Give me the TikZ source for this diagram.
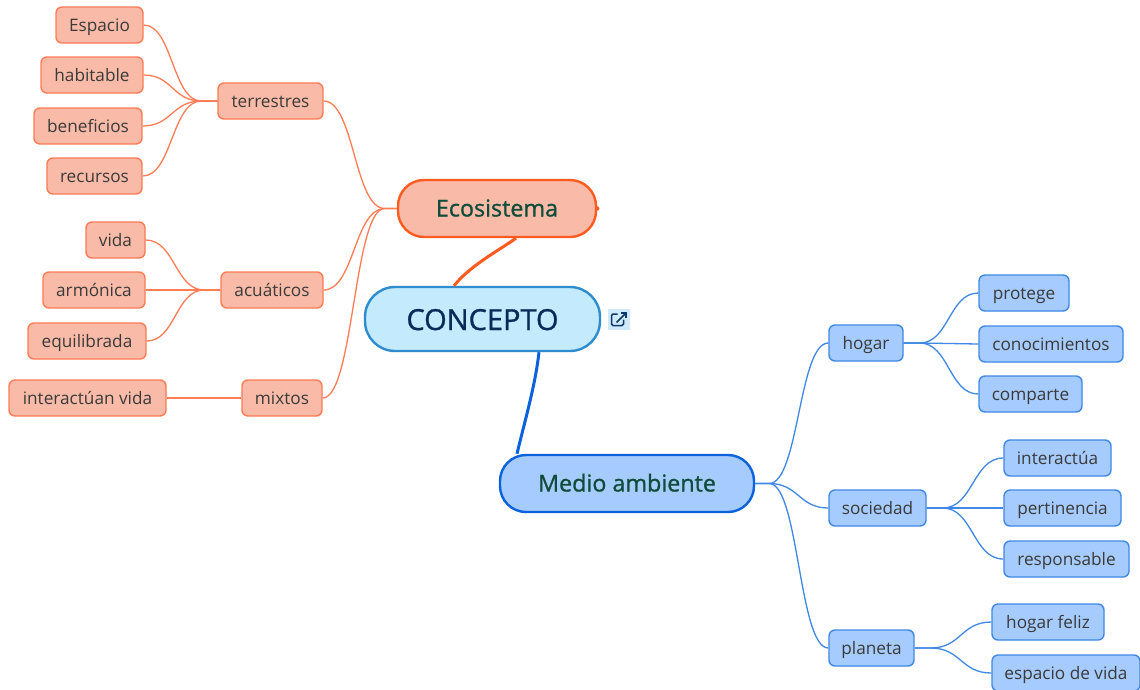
\documentclass[tikz,border=0pt]{standalone}
\usepackage{fontspec}
\setmainfont{Open Sans}
\newfontfamily\semib[FakeBold=1]{Open Sans}
\usetikzlibrary{calc}
\definecolor{orS}{HTML}{FF5A1F}
\definecolor{orL}{HTML}{FF7C55}
\definecolor{orF}{HTML}{F9BBA8}
\definecolor{blS}{HTML}{0A62DC}
\definecolor{blL}{HTML}{3F88E6}
\definecolor{blF}{HTML}{A6CBFF}
\definecolor{ceS}{HTML}{2E8CCF}
\definecolor{ceF}{HTML}{C4EAFD}
\definecolor{txS}{HTML}{3A3A3A}
\definecolor{txG}{HTML}{0F4C3A}
\definecolor{txN}{HTML}{0A2A5A}
\definecolor{icF}{HTML}{CFEBFB}
\tikzset{
  box/.style={rounded corners=6pt,line width=1.4pt,inner sep=0pt,text=txS,text height=14.5pt,text depth=1.5pt,font=\fontsize{17.2}{17}\selectfont},
  orbox/.style={box,draw=orL,fill=orF},
  blbox/.style={box,draw=blL,fill=blF},
  main/.style={rounded corners=26pt,line width=2.4pt,inner sep=0pt,text=txG,text height=19pt,text depth=3pt,font=\semib\fontsize{23.3}{23}\selectfont},
  orline/.style={draw=orL,line width=1.3pt},
  blline/.style={draw=blL,line width=1.3pt},
  trunkor/.style={draw=orS,line width=3pt},
  trunkbl/.style={draw=blS,line width=3pt}
}
% \bx{name}{style}{x0}{y0}{x1}{y1}{text}
\newcommand{\bx}[7]{\node[#2,minimum width=#5pt-#3pt,minimum height=#6pt-#4pt] (#1) at ({(#3+#5)/2},{(#4+#6)/2}) {#7};}
\newcommand{\lk}[4]{\coordinate (frk) at ($(#3)+(#4,0)$);
  \draw[#1] (#2) .. controls ($(#2)!.5!(frk |- #2)$) and ($(#2 |- frk)!.5!(frk)$) .. (frk) -- (#3);}
\newcommand{\rk}[4]{\coordinate (frk) at ($(#2)+(#4,0)$);
  \draw[#1] (#2) -- (frk) .. controls ($(frk)!.5!(#3 |- frk)$) and ($(frk |- #3)!.5!(#3)$) .. (#3);}
\begin{document}
\begin{tikzpicture}[x=1pt,y=-1pt]
\useasboundingbox (0,0) rectangle (1140,689);
\fill[white] (0,0) rectangle (1140,689);
\bx{espacio}{orbox}{56}{7}{143}{43}{Espacio}
\bx{habitable}{orbox}{41}{57}{143}{93}{habitable}
\bx{beneficios}{orbox}{34}{108}{142}{144}{beneficios}
\bx{recursos}{orbox}{47}{158}{142}{194}{recursos}
\bx{terrestres}{orbox}{218}{83}{323}{119}{terrestres}
\bx{vida}{orbox}{86}{222}{145}{258}{vida}
\bx{armonica}{orbox}{43}{272}{145}{308}{armónica}
\bx{equilibrada}{orbox}{28}{323}{146}{359}{equilibrada}
\bx{acuaticos}{orbox}{221}{272}{323}{308}{acuáticos}
\bx{interactuan}{orbox}{9}{380}{166}{416}{interactúan vida}
\bx{mixtos}{orbox}{242}{380}{322}{416}{mixtos}
\bx{hogar}{blbox}{829}{325}{903}{361}{hogar}
\bx{sociedad}{blbox}{829}{490}{926}{526}{sociedad}
\bx{planeta}{blbox}{829}{630}{914}{666}{planeta}
\bx{protege}{blbox}{979}{275}{1069}{311}{protege}
\bx{conocimientos}{blbox}{979}{326}{1123}{362}{conocimientos}
\bx{comparte}{blbox}{979}{376}{1082}{412}{comparte}
\bx{interactua}{blbox}{1004}{440}{1111}{476}{interactúa}
\bx{pertinencia}{blbox}{1004}{490}{1121}{526}{pertinencia}
\bx{responsable}{blbox}{1004}{541}{1129}{577}{responsable}
\bx{hogarfeliz}{blbox}{992}{604}{1104}{640}{hogar feliz}
\bx{espaciovida}{blbox}{992}{655}{1140}{691}{espacio de vida}
\bx{eco}{main,draw=orS,fill=orF}{398}{180}{596}{237}{Ecosistema}
\bx{medio}{main,draw=blS,fill=blF}{500}{455}{754}{512}{Medio ambiente}
\bx{concepto}{main,rounded corners=30pt,draw=ceS,fill=ceF,text=txN,text height=24pt,text depth=2pt,font=\semib\fontsize{29}{29}\selectfont}{365}{287}{600}{351}{CONCEPTO}
% leaves, left
\lk{orline}{espacio.east}{terrestres.west}{-16}
\lk{orline}{habitable.east}{terrestres.west}{-16}
\lk{orline}{beneficios.east}{terrestres.west}{-16}
\lk{orline}{recursos.east}{terrestres.west}{-16}
\lk{orline}{vida.east}{acuaticos.west}{-16}
\lk{orline}{armonica.east}{acuaticos.west}{-16}
\lk{orline}{equilibrada.east}{acuaticos.west}{-16}
\draw[orline] (interactuan.east) -- (mixtos.west);
\lk{orline}{terrestres.east}{eco.west}{-12}
\lk{orline}{acuaticos.east}{eco.west}{-12}
\lk{orline}{mixtos.east}{eco.west}{-12}
% right
\rk{blline}{medio.east}{hogar.west}{14}
\rk{blline}{medio.east}{sociedad.west}{14}
\rk{blline}{medio.east}{planeta.west}{14}
\rk{blline}{hogar.east}{protege.west}{16}
\rk{blline}{hogar.east}{conocimientos.west}{16}
\rk{blline}{hogar.east}{comparte.west}{16}
\rk{blline}{sociedad.east}{interactua.west}{16}
\rk{blline}{sociedad.east}{pertinencia.west}{16}
\rk{blline}{sociedad.east}{responsable.west}{16}
\rk{blline}{planeta.east}{hogarfeliz.west}{16}
\rk{blline}{planeta.east}{espaciovida.west}{16}
% trunks
\draw[trunkor] ($(concepto.north)+(-28.5,0)$) .. controls +(16,-20) and +(-20,14) .. ($(eco.south)+(19,0)$);
\draw[trunkbl] ($(concepto.south)+(56.5,0)$) .. controls +(-4,35) and +(7,-30) .. ($(medio.north)+(-110,0)$);
\fill[orS] (eco.east) circle (2.2);
% link icon
\node[fill=icF,minimum width=22pt,minimum height=21pt,inner sep=0pt] (linkicon) at (619,319.5) {};
\draw[txN!85!ceS,line width=1.5pt,rounded corners=1.5pt] ($(linkicon.center)+(-1.5,-5.5)$) -- +(-6,0) -- +(-6,11.5) -- +(6,11.5) -- +(6,5.5);
\draw[txN!85!ceS,line width=1.5pt] ($(linkicon.center)+(-2.5,3)$) -- +(9.5,-9.5);
\draw[txN!85!ceS,line width=1.5pt] ($(linkicon.center)+(2,-6.5)$) -- +(5,0) -- +(5,5);
\end{tikzpicture}
\end{document}
